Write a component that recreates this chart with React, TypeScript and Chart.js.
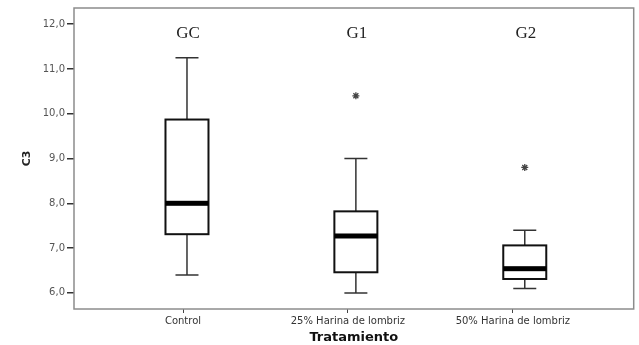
import React, { useEffect, useRef } from 'react';
import { Chart, registerables } from 'chart.js';

Chart.register(...registerables);

const categories = ['Control', '25% Harina de lombriz', '50% Harina de lombriz'];
const groupLabels = ['GC', 'G1', 'G2'];
const whiskerLow = [6.4, 6.0, 6.1];
const q1 = [7.31, 6.46, 6.31];
const median = [8.0, 7.27, 6.54];
const q3 = [9.87, 7.82, 7.06];
const whiskerHigh = [11.25, 9.0, 7.4];
const outlierGroup = [1, 2];
const outlierValue = [10.4, 8.8];
const yTicks = [6, 7, 8, 9, 10, 11, 12];

const SANS = '"DejaVu Sans", Arial, sans-serif';

const boxPlugin = {
  id: 'boxplots',
  afterDatasetsDraw(chart: any) {
    const { ctx, chartArea, scales } = chart;
    const x = scales.x;
    const y = scales.y;
    ctx.save();
    categories.forEach((_, i) => {
      const cx = x.getPixelForValue(i);
      const hw = 21.5;
      const cw = 11.5;
      const yLo = y.getPixelForValue(whiskerLow[i]);
      const yQ1 = y.getPixelForValue(q1[i]);
      const yMed = y.getPixelForValue(median[i]);
      const yQ3 = y.getPixelForValue(q3[i]);
      const yHi = y.getPixelForValue(whiskerHigh[i]);
      ctx.strokeStyle = '#333';
      ctx.lineWidth = 1.5;
      ctx.beginPath();
      ctx.moveTo(cx, yHi);
      ctx.lineTo(cx, yQ3);
      ctx.moveTo(cx, yQ1);
      ctx.lineTo(cx, yLo);
      ctx.moveTo(cx - cw, yHi);
      ctx.lineTo(cx + cw, yHi);
      ctx.moveTo(cx - cw, yLo);
      ctx.lineTo(cx + cw, yLo);
      ctx.stroke();
      ctx.fillStyle = '#ffffff';
      ctx.fillRect(cx - hw, yQ3, 2 * hw, yQ1 - yQ3);
      ctx.strokeStyle = '#111';
      ctx.lineWidth = 2;
      ctx.strokeRect(cx - hw, yQ3, 2 * hw, yQ1 - yQ3);
      ctx.fillStyle = '#000';
      ctx.fillRect(cx - hw, yMed - 2.5, 2 * hw, 5);
      ctx.fillStyle = '#222';
      ctx.font = '17px "Liberation Serif", "Times New Roman", serif';
      ctx.textAlign = 'center';
      ctx.textBaseline = 'middle';
      ctx.fillText(groupLabels[i], cx + 1, 34);
    });
    ctx.strokeStyle = '#8c8c8c';
    ctx.lineWidth = 1.5;
    ctx.strokeRect(chartArea.left, chartArea.top, chartArea.right - chartArea.left, chartArea.bottom - chartArea.top);
    ctx.restore();
  },
};

export default function App() {
  const ref = useRef<HTMLCanvasElement>(null);
  useEffect(() => {
    if (!ref.current) return;
    const chart = new Chart(ref.current, {
      type: 'scatter',
      data: {
        datasets: [
          {
            data: outlierGroup.map((g, k) => ({ x: g, y: outlierValue[k] })),
            pointStyle: 'star',
            radius: 3.5,
            borderColor: '#444',
            backgroundColor: '#444',
            borderWidth: 1.3,
          },
        ],
      },
      options: {
        animation: false,
        responsive: false,
        maintainAspectRatio: false,
        layout: { padding: { top: 6, right: 5, left: 0, bottom: 0 } },
        plugins: { legend: { display: false }, tooltip: { enabled: false } },
        scales: {
          x: { type: 'linear', display: false, min: -0.669, max: 2.645 },
          x2: {
            type: 'linear',
            position: 'bottom',
            min: -0.661,
            max: 2.733,
            afterBuildTicks: (s: any) => {
              s.ticks = categories.map((_, i) => ({ value: i }));
            },
            afterFit: (s: any) => {
              s.height = 36;
            },
            ticks: {
              callback: (v: any) => categories[v],
              font: { family: SANS, size: 10 },
              color: '#333',
              padding: 2,
              maxRotation: 0,
              autoSkip: false,
            },
            grid: { drawOnChartArea: false, tickLength: 4, color: '#444', lineWidth: 1 },
            border: { display: false },
            title: {
              display: true,
              text: 'Tratamiento',
              font: { family: SANS, size: 13, weight: 'bold' },
              color: '#111',
              padding: { top: 0, bottom: 0 },
            },
          },
          y: {
            min: 5.64,
            max: 12.36,
            afterBuildTicks: (s: any) => {
              s.ticks = yTicks.map((v) => ({ value: v }));
            },
            afterFit: (s: any) => {
              s.width = 74;
            },
            ticks: {
              callback: (v: any) => Number(v).toFixed(1).replace('.', ','),
              font: { family: SANS, size: 10 },
              color: '#555',
              padding: 2,
            },
            grid: { drawOnChartArea: false, tickLength: 7, color: '#333', lineWidth: 1.5 },
            border: { display: false },
            title: {
              display: true,
              text: 'C3',
              font: { family: SANS, size: 11, weight: 'bold' },
              color: '#222',
              padding: { top: 21, bottom: 0 },
            },
          },
        },
      },
      plugins: [boxPlugin],
    } as any);
    return () => chart.destroy();
  }, []);
  return (
    <div style={{ position: 'absolute', left: 0, top: 0, width: 639, height: 345, background: '#fff' }}>
      <canvas ref={ref} width={639} height={345} style={{ display: 'block', width: 639, height: 345 }} />
    </div>
  );
}
